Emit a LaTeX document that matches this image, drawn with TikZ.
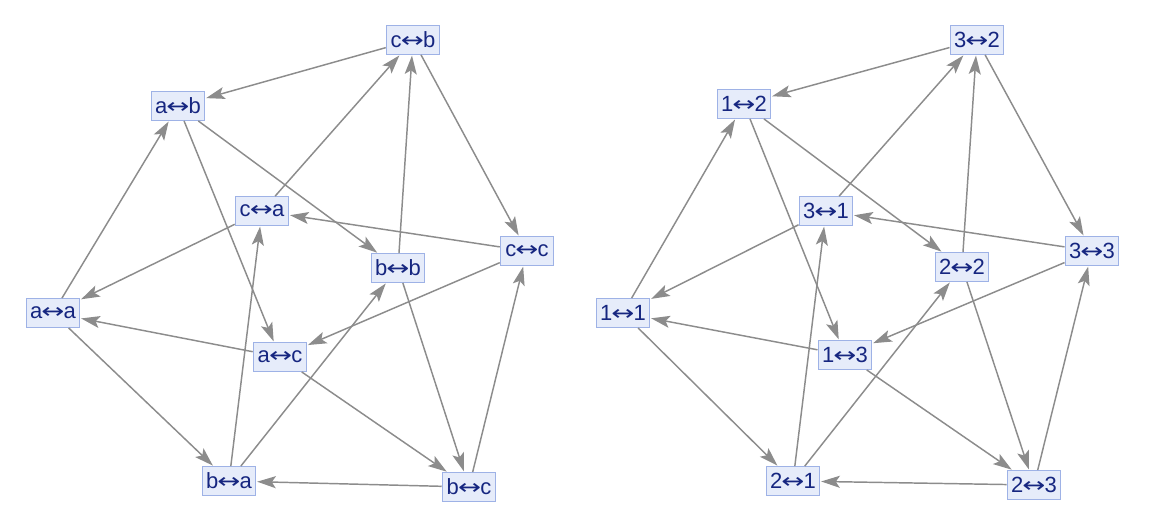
\documentclass[tikz,border=0pt]{standalone}
\usepackage{fontspec}
\setmainfont{Liberation Sans}
\newfontfamily\arrfont{DejaVu Sans}
\usetikzlibrary{arrows.meta}
\definecolor{nodefill}{RGB}{230,236,250}
\definecolor{nodeline}{RGB}{158,178,230}
\definecolor{nodetext}{RGB}{22,38,128}
\definecolor{edgecol}{RGB}{140,140,140}
\newcommand{\lr}{\kern-0.04em{\arrfont\scalebox{1.25}[0.95]{↔}}\kern-0.04em}
\tikzset{
  vbox/.style={draw=nodeline, fill=nodefill, text=nodetext, line width=0.9pt,
    font=\fontsize{16.5}{19}\selectfont, inner xsep=3pt, inner ysep=0pt,
    minimum height=21.5pt, minimum width=40pt},
  edge/.style={draw=edgecol, line width=1.1pt,
    -{Stealth[length=14pt,width=9pt,inset=3pt]}, shorten >=0.5pt}
}
\begin{document}
\begin{tikzpicture}[x=0.75pt,y=-0.75pt]
\path[use as bounding box] (0,0) rectangle (1152,524);
% left graph
\node[vbox] (cb) at (413,40) {c\lr b};
\node[vbox] (ab) at (178,106) {a\lr b};
\node[vbox] (ca) at (262,211) {c\lr a};
\node[vbox] (cc) at (527,251) {c\lr c};
\node[vbox] (bb) at (398,268) {b\lr b};
\node[vbox] (aa) at (53,313) {a\lr a};
\node[vbox] (ac) at (280,357) {a\lr c};
\node[vbox] (ba) at (229,481) {b\lr a};
\node[vbox] (bc) at (469,487) {b\lr c};
\foreach \s/\t in {cb/ab, ab/bb, ab/ac, cb/cc, ca/cb, cc/ca, ca/aa, cc/ac, bb/cb, bb/bc, aa/ab, aa/ba, ac/aa, ac/bc, ba/ca, ba/bb, bc/ba, bc/cc}
  \draw[edge] (\s) -- (\t);
% right graph
\node[vbox] (r32) at (977,40) {3\lr 2};
\node[vbox] (r12) at (744,104) {1\lr 2};
\node[vbox] (r31) at (826,211) {3\lr 1};
\node[vbox] (r22) at (962,267) {2\lr 2};
\node[vbox] (r33) at (1092,251) {3\lr 3};
\node[vbox] (r11) at (623,313) {1\lr 1};
\node[vbox] (r13) at (845,355) {1\lr 3};
\node[vbox] (r21) at (793,481) {2\lr 1};
\node[vbox] (r23) at (1034,485) {2\lr 3};
\foreach \s/\t in {r32/r12, r32/r33, r12/r22, r12/r13, r31/r32, r31/r11, r33/r31, r33/r13, r22/r32, r22/r23, r11/r12, r11/r21, r13/r11, r13/r23, r21/r31, r21/r22, r23/r21, r23/r33}
  \draw[edge] (\s) -- (\t);
\end{tikzpicture}
\end{document}
